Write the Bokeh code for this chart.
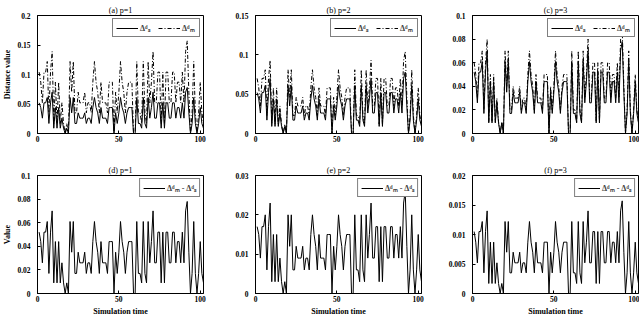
from bokeh.plotting import figure
from bokeh.layouts import row, column
from bokeh.models import FixedTicker, CustomJSTickFormatter, Range1d, Legend, LegendItem
from bokeh.embed import file_html
from bokeh.resources import INLINE

# ---------------- data ----------------
time = list(range(1, 103))

# single-model distance (solid line, panels a-c)
s = [0.052, 0.044, 0.026, 0.052, 0.052, 0.061, 0.017, 0.052, 0.070, 0.009,
     0.044, 0.009, 0.044, 0.009, 0.026, 0.009, 0.0, 0.009, 0.0, 0.061,
     0.035, 0.061, 0.017, 0.017, 0.035, 0.026, 0.026, 0.026, 0.035, 0.017,
     0.026, 0.026, 0.017, 0.044, 0.061, 0.044, 0.035, 0.017, 0.044, 0.026,
     0.026, 0.026, 0.017, 0.044, 0.044, 0.044, 0.0, 0.035, 0.017, 0.035,
     0.061, 0.044, 0.035, 0.017, 0.035, 0.044, 0.044, 0.044, 0.0, 0.0,
     0.061, 0.017, 0.017, 0.009, 0.061, 0.017, 0.009, 0.061, 0.026, 0.044,
     0.070, 0.026, 0.026, 0.052, 0.052, 0.009, 0.052, 0.009, 0.052, 0.052,
     0.026, 0.026, 0.052, 0.052, 0.026, 0.044, 0.044, 0.026, 0.052, 0.026,
     0.070, 0.078, 0.035, 0.0, 0.017, 0.061, 0.017, 0.0, 0.017, 0.044,
     0.017, 0.009]

# multi-model distance (dash-dot line), p = 1, 2, 3
m1 = [0.104, 0.087, 0.052, 0.104, 0.104, 0.122, 0.035, 0.104, 0.139, 0.017,
      0.087, 0.017, 0.087, 0.017, 0.052, 0.017, 0.0, 0.017, 0.0, 0.122,
      0.070, 0.122, 0.035, 0.035, 0.070, 0.052, 0.052, 0.052, 0.070, 0.035,
      0.052, 0.052, 0.035, 0.087, 0.122, 0.087, 0.070, 0.035, 0.087, 0.052,
      0.052, 0.052, 0.035, 0.087, 0.087, 0.087, 0.0, 0.070, 0.035, 0.070,
      0.122, 0.087, 0.070, 0.035, 0.070, 0.087, 0.087, 0.087, 0.0, 0.0,
      0.122, 0.035, 0.035, 0.017, 0.122, 0.035, 0.017, 0.122, 0.052, 0.087,
      0.139, 0.052, 0.052, 0.104, 0.104, 0.017, 0.104, 0.017, 0.104, 0.104,
      0.052, 0.052, 0.104, 0.104, 0.052, 0.087, 0.087, 0.052, 0.104, 0.052,
      0.139, 0.157, 0.070, 0.0, 0.035, 0.122, 0.035, 0.0, 0.035, 0.087,
      0.035, 0.017]

m2 = [0.070, 0.058, 0.035, 0.070, 0.070, 0.081, 0.023, 0.070, 0.093, 0.012,
      0.058, 0.012, 0.058, 0.012, 0.035, 0.012, 0.0, 0.012, 0.0, 0.081,
      0.046, 0.081, 0.023, 0.023, 0.046, 0.035, 0.035, 0.035, 0.046, 0.023,
      0.035, 0.035, 0.023, 0.058, 0.081, 0.058, 0.046, 0.023, 0.058, 0.035,
      0.035, 0.035, 0.023, 0.058, 0.058, 0.058, 0.0, 0.046, 0.023, 0.046,
      0.081, 0.058, 0.046, 0.023, 0.046, 0.058, 0.058, 0.058, 0.0, 0.0,
      0.081, 0.023, 0.023, 0.012, 0.081, 0.023, 0.012, 0.081, 0.035, 0.058,
      0.093, 0.035, 0.035, 0.070, 0.070, 0.012, 0.070, 0.012, 0.070, 0.070,
      0.035, 0.035, 0.070, 0.070, 0.035, 0.058, 0.058, 0.035, 0.070, 0.035,
      0.093, 0.104, 0.046, 0.0, 0.023, 0.081, 0.023, 0.0, 0.023, 0.058,
      0.023, 0.012]

m3 = [0.060, 0.050, 0.030, 0.060, 0.060, 0.070, 0.020, 0.060, 0.080, 0.010,
      0.050, 0.010, 0.050, 0.010, 0.030, 0.010, 0.0, 0.010, 0.0, 0.070,
      0.040, 0.070, 0.020, 0.020, 0.040, 0.030, 0.030, 0.030, 0.040, 0.020,
      0.030, 0.030, 0.020, 0.050, 0.070, 0.050, 0.040, 0.020, 0.050, 0.030,
      0.030, 0.030, 0.020, 0.050, 0.050, 0.050, 0.0, 0.040, 0.020, 0.040,
      0.070, 0.050, 0.040, 0.020, 0.040, 0.050, 0.050, 0.050, 0.0, 0.0,
      0.070, 0.020, 0.020, 0.010, 0.070, 0.020, 0.010, 0.070, 0.030, 0.050,
      0.080, 0.030, 0.030, 0.060, 0.060, 0.010, 0.060, 0.010, 0.060, 0.060,
      0.030, 0.030, 0.060, 0.060, 0.030, 0.050, 0.050, 0.030, 0.060, 0.030,
      0.080, 0.088, 0.040, 0.0, 0.020, 0.070, 0.020, 0.0, 0.020, 0.050,
      0.020, 0.010]

# differences (bottom row), p = 1, 2, 3
d1 = [0.052, 0.044, 0.026, 0.052, 0.052, 0.061, 0.017, 0.052, 0.070, 0.009,
      0.044, 0.009, 0.044, 0.009, 0.026, 0.009, 0.0, 0.009, 0.0, 0.061,
      0.035, 0.061, 0.017, 0.017, 0.035, 0.026, 0.026, 0.026, 0.035, 0.017,
      0.026, 0.026, 0.017, 0.044, 0.061, 0.044, 0.035, 0.017, 0.044, 0.026,
      0.026, 0.026, 0.017, 0.044, 0.044, 0.044, 0.0, 0.035, 0.017, 0.035,
      0.061, 0.044, 0.035, 0.017, 0.035, 0.044, 0.044, 0.044, 0.0, 0.0,
      0.061, 0.017, 0.017, 0.009, 0.061, 0.017, 0.009, 0.061, 0.026, 0.044,
      0.070, 0.026, 0.026, 0.052, 0.052, 0.009, 0.052, 0.009, 0.052, 0.052,
      0.026, 0.026, 0.052, 0.052, 0.026, 0.044, 0.044, 0.026, 0.052, 0.026,
      0.070, 0.078, 0.035, 0.0, 0.017, 0.061, 0.017, 0.0, 0.017, 0.044,
      0.017, 0.009]

d2 = [0.017, 0.015, 0.009, 0.017, 0.017, 0.020, 0.006, 0.017, 0.023, 0.003,
      0.015, 0.003, 0.015, 0.003, 0.009, 0.003, 0.0, 0.003, 0.0, 0.020,
      0.012, 0.020, 0.006, 0.006, 0.012, 0.009, 0.009, 0.009, 0.012, 0.006,
      0.009, 0.009, 0.006, 0.015, 0.020, 0.015, 0.012, 0.006, 0.015, 0.009,
      0.009, 0.009, 0.006, 0.015, 0.015, 0.015, 0.0, 0.012, 0.006, 0.012,
      0.020, 0.015, 0.012, 0.006, 0.012, 0.015, 0.015, 0.015, 0.0, 0.0,
      0.020, 0.006, 0.006, 0.003, 0.020, 0.006, 0.003, 0.020, 0.009, 0.015,
      0.023, 0.009, 0.009, 0.017, 0.017, 0.003, 0.017, 0.003, 0.017, 0.017,
      0.009, 0.009, 0.017, 0.017, 0.009, 0.015, 0.015, 0.009, 0.017, 0.009,
      0.023, 0.026, 0.012, 0.0, 0.006, 0.020, 0.006, 0.0, 0.006, 0.015,
      0.006, 0.003]

d3 = [0.0105, 0.0087, 0.0052, 0.0105, 0.0105, 0.0122, 0.0035, 0.0105, 0.0140, 0.0017,
      0.0087, 0.0017, 0.0087, 0.0017, 0.0052, 0.0017, 0.0, 0.0017, 0.0, 0.0122,
      0.0070, 0.0122, 0.0035, 0.0035, 0.0070, 0.0052, 0.0052, 0.0052, 0.0070, 0.0035,
      0.0052, 0.0052, 0.0035, 0.0087, 0.0122, 0.0087, 0.0070, 0.0035, 0.0087, 0.0052,
      0.0052, 0.0052, 0.0035, 0.0087, 0.0087, 0.0087, 0.0, 0.0070, 0.0035, 0.0070,
      0.0122, 0.0087, 0.0070, 0.0035, 0.0070, 0.0087, 0.0087, 0.0087, 0.0, 0.0,
      0.0122, 0.0035, 0.0035, 0.0017, 0.0122, 0.0035, 0.0017, 0.0122, 0.0052, 0.0087,
      0.0140, 0.0052, 0.0052, 0.0105, 0.0105, 0.0017, 0.0105, 0.0017, 0.0105, 0.0105,
      0.0052, 0.0052, 0.0105, 0.0105, 0.0052, 0.0087, 0.0087, 0.0052, 0.0105, 0.0052,
      0.0140, 0.0157, 0.0070, 0.0, 0.0035, 0.0122, 0.0035, 0.0, 0.0035, 0.0087,
      0.0035, 0.0017]

titles = ["(a) p=1", "(b) p=2", "(c) p=3", "(d) p=1", "(e) p=2", "(f) p=3"]
x_ticks = [0, 50, 100]
y_ticks = [
    [0, 0.05, 0.1, 0.15, 0.2],
    [0, 0.05, 0.1, 0.15],
    [0, 0.02, 0.04, 0.06, 0.08, 0.1],
    [0, 0.02, 0.04, 0.06, 0.08, 0.1],
    [0, 0.01, 0.02, 0.03],
    [0, 0.005, 0.01, 0.015, 0.02],
]
label_s = "Δᵈₛ"
label_m = "Δᵈₘ"
label_d = "Δᵈₘ - Δᵈₛ"

FONT = "Liberation Serif"
fmt_code = "return String(parseFloat(tick.toPrecision(6)));"


def make(idx, series, width, height, bl, br, bt, bb, ylabel=None, xlabel=None):
    yt = y_ticks[idx]
    p = figure(width=width, height=height, output_backend="svg", toolbar_location=None,
               x_range=Range1d(0, 102), y_range=Range1d(yt[0], yt[-1]),
               min_border_left=bl, min_border_right=br,
               min_border_top=bt, min_border_bottom=bb)
    p.title.text = titles[idx]
    p.title.align = "center"
    p.title.text_font = FONT
    p.title.text_font_size = "8px"
    p.title.text_font_style = "normal"
    p.title.text_color = "black"
    p.title.standoff = 2
    p.grid.visible = False
    p.outline_line_color = "black"
    p.outline_line_width = 1
    p.background_fill_color = "white"
    p.border_fill_color = "white"

    p.xaxis.ticker = FixedTicker(ticks=x_ticks)
    p.yaxis.ticker = FixedTicker(ticks=yt)
    p.yaxis.formatter = CustomJSTickFormatter(code=fmt_code)
    for ax in (p.xaxis[0], p.yaxis[0]):
        ax.major_tick_in = 3
        ax.major_tick_out = 0
        ax.minor_tick_in = 0
        ax.minor_tick_out = 0
        ax.axis_line_color = "black"
        ax.major_tick_line_color = "black"
        ax.major_label_text_font = FONT
        ax.major_label_text_font_size = "7.5px"
        ax.major_label_text_font_style = "bold"
        ax.major_label_text_color = "black"
        ax.axis_label_text_font = FONT
        ax.axis_label_text_font_size = "8px"
        ax.axis_label_text_font_style = "bold"
        ax.axis_label_text_color = "black"
        ax.axis_label_standoff = 2
    p.yaxis.major_label_standoff = 7
    p.xaxis.major_label_standoff = 2
    if ylabel:
        p.yaxis.axis_label = ylabel
    if xlabel:
        p.xaxis.axis_label = xlabel

    items = []
    for vals, dash, lab in series:
        r = p.line(time, vals, line_color="black", line_width=1, line_dash=dash)
        items.append(LegendItem(label=lab, renderers=[r]))
    leg = Legend(items=items, location="top_right", orientation="horizontal",
                 margin=3, padding=3, spacing=4, glyph_width=22, glyph_height=10,
                 label_standoff=2, label_height=10, label_width=14,
                 label_text_font=FONT, label_text_font_size="8px",
                 label_text_font_style="bold",
                 border_line_color="black", border_line_width=1,
                 background_fill_color="white", background_fill_alpha=1)
    p.add_layout(leg)
    return p


H1, H2 = 155, 163
f1 = make(0, [(s, "solid", label_s), (m1, "4 2 1 2", label_m)], 213, H1, 37, 10, 15, 22,
          ylabel="Distance value")
f2 = make(1, [(s, "solid", label_s), (m2, "4 2 1 2", label_m)], 214, H1, 42, 6, 15, 22)
f3 = make(2, [(s, "solid", label_s), (m3, "4 2 1 2", label_m)], 212, H1, 45, 1, 15, 22)
f4 = make(3, [(d1, "solid", label_d)], 213, H2, 37, 10, 20, 20,
          ylabel="Value", xlabel="Simulation time")
f5 = make(4, [(d2, "solid", label_d)], 214, H2, 42, 6, 20, 20, xlabel="Simulation time")
f6 = make(5, [(d3, "solid", label_d)], 212, H2, 45, 1, 20, 20, xlabel="Simulation time")

layout = column(row(f1, f2, f3, spacing=0), row(f4, f5, f6, spacing=0), spacing=0)

open("out.html", "w").write(file_html(layout, INLINE))
